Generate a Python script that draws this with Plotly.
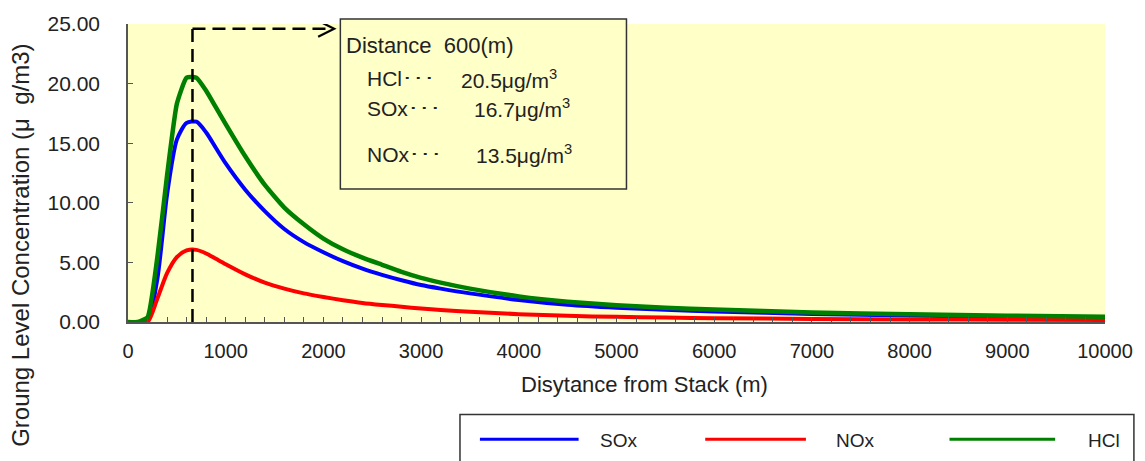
import plotly.graph_objects as go

# ---- data ----
distance = [0, 100, 200, 300, 400, 500, 600, 700, 800, 900, 1000, 1200, 1400, 1600, 1800,
            2000, 2200, 2400, 2600, 2800, 3000, 3200, 3500, 4000, 4500, 5000, 5500, 6000,
            7000, 8000, 9000, 10000]
sox = [0, 0, 0.1, 3.6, 10.7, 15.3, 16.7, 16.8, 15.9, 14.6, 13.3, 11.1, 9.3, 7.8, 6.7,
       5.85, 5.1, 4.47, 3.95, 3.5, 3.1, 2.8, 2.4, 1.85, 1.45, 1.2, 1.02, 0.88,
       0.68, 0.54, 0.44, 0.36]
nox = [0, 0, 0, 1.96, 4.1, 5.45, 6.0, 6.05, 5.75, 5.3, 4.85, 4.0, 3.3, 2.8, 2.4,
       2.1, 1.83, 1.6, 1.43, 1.28, 1.13, 1.0, 0.86, 0.66, 0.52, 0.43, 0.37, 0.32,
       0.26, 0.22, 0.19, 0.17]
hcl = [0, 0, 0.4, 5.4, 12.3, 18.3, 20.5, 20.5, 19.4, 18.0, 16.6, 13.9, 11.5, 9.6, 8.2,
       7.0, 6.1, 5.4, 4.8, 4.2, 3.7, 3.3, 2.8, 2.15, 1.7, 1.4, 1.2, 1.04,
       0.8, 0.65, 0.53, 0.44]

series_names = ["SOx", "NOx", "HCl"]
series_colors = ["#0000FF", "#FF0000", "#008000"]
series_smooth = [0.7, 0.7, 0.45]

x_ticks = [0, 1000, 2000, 3000, 4000, 5000, 6000, 7000, 8000, 9000, 10000]
y_ticks = [0, 5, 10, 15, 20, 25]

marker_x = 660          # dashed marker position (m)
marker_top = 24.6       # dashed horizontal level
arrow_end_x = 2110      # arrow tip

box_title = "Distance  600(m)"
box_labels = ["HCl･･･", "SOx･･･", "NOx･･･"]
box_values = ["20.5μg/m<sup>3</sup>", "16.7μg/m<sup>3</sup>", "13.5μg/m<sup>3</sup>"]

# ---- layout helpers (pixel -> paper) ----
L, R, T, B = 128, 1108, 22, 322
W, H = 1145, 461
def px(xp):
    return (xp - L) / (R - L)
def py(yp):
    return (B - yp) / (B - T)

FONT = "Liberation Sans, Arial, sans-serif"
TXT = "#222222"
AX = "#555555"
BG = "#FFFFC8"

fig = go.Figure()
for name, vals, col, w, sm in zip(series_names, [sox, nox, hcl], series_colors, [4, 4, 4.5], series_smooth):
    fig.add_trace(go.Scatter(x=distance, y=vals, mode="lines", name=name,
                             line=dict(color=col, width=w, shape="spline", smoothing=sm),
                             showlegend=False))

shapes = []
shapes.append(dict(type="line", xref="x", yref="y", x0=marker_x, x1=marker_x, y0=0, y1=marker_top,
                   line=dict(color="black", width=2.5, dash="13px,7px"), layer="above"))
shapes.append(dict(type="line", xref="x", yref="y", x0=marker_x, x1=arrow_end_x - 30, y0=marker_top, y1=marker_top,
                   line=dict(color="black", width=2.5, dash="13px,7px"), layer="above"))
shapes.append(dict(type="path", xref="x", yref="y", xsizemode="pixel", ysizemode="pixel",
                   xanchor=arrow_end_x, yanchor=marker_top,
                   path="M-16,-8 L0,0 L-16,8", line=dict(color="black", width=2.2), layer="above"))
shapes.append(dict(type="rect", xref="paper", yref="paper", x0=px(341), x1=px(628), y0=py(188), y1=py(17),
                   line=dict(color="#333333", width=1.5), fillcolor=BG, layer="above"))
shapes.append(dict(type="rect", xref="paper", yref="paper", x0=px(461), x1=px(1137), y0=py(475), y1=py(415),
                   line=dict(color="#333333", width=1.5), fillcolor="white", layer="above"))

annotations = []
annotations.append(dict(text=box_title, xref="paper", yref="paper", x=px(345), y=py(44),
                        xanchor="left", yanchor="middle", showarrow=False,
                        font=dict(family=FONT, size=22, color=TXT)))
ys = [77, 107, 153]
xs_val = [460, 473, 475]
for lab, val, yy, xv in zip(box_labels, box_values, ys, xs_val):
    annotations.append(dict(text=lab, xref="paper", yref="paper", x=px(366), y=py(yy),
                            xanchor="left", yanchor="middle", showarrow=False,
                            font=dict(family=FONT, size=21, color=TXT)))
    annotations.append(dict(text=val, xref="paper", yref="paper", x=px(xv), y=py(yy),
                            xanchor="left", yanchor="middle", showarrow=False,
                            font=dict(family=FONT, size=21, color=TXT)))

leg_line = [(481, 580), (707, 808), (952, 1058)]
leg_text = [599, 836, 1089]
for name, col, (a, b), t in zip(series_names, series_colors, leg_line, leg_text):
    shapes.append(dict(type="line", xref="paper", yref="paper", x0=px(a), x1=px(b), y0=py(440), y1=py(440),
                       line=dict(color=col, width=3), layer="above"))
    annotations.append(dict(text=name, xref="paper", yref="paper", x=px(t), y=py(441),
                            xanchor="left", yanchor="middle", showarrow=False,
                            font=dict(family=FONT, size=19, color=TXT)))

annotations.append(dict(text="Disytance from Stack (m)", xref="paper", yref="paper", x=px(646), y=py(385),
                        xanchor="center", yanchor="middle", showarrow=False,
                        font=dict(family=FONT, size=22, color=TXT)))
annotations.append(dict(text="Groung Level Concentration (μ  g/m3)", xref="paper", yref="paper",
                        x=px(20), y=py(245), xanchor="center", yanchor="middle", textangle=-90,
                        showarrow=False, font=dict(family=FONT, size=24, color=TXT)))

fig.update_layout(
    width=W, height=H,
    margin=dict(l=L, r=W - R, t=T, b=H - B),
    paper_bgcolor="white", plot_bgcolor=BG,
    shapes=shapes, annotations=annotations,
    showlegend=False,
    xaxis=dict(range=[0, 10000], tickvals=x_ticks, ticktext=[str(v) for v in x_ticks],
               showgrid=False, zeroline=False, showline=True, linecolor=AX, linewidth=1.5,
               ticks="inside", ticklen=5, tickcolor=AX, tickwidth=1.2,
               minor=dict(dtick=200, ticks="inside", ticklen=5, tickcolor=AX, tickwidth=1.2, showgrid=False),
               tickfont=dict(family=FONT, size=20, color=TXT), ticklabelstandoff=10),
    yaxis=dict(range=[0, 25], tickvals=y_ticks, ticktext=["%.2f" % v for v in y_ticks],
               showgrid=False, zeroline=False, showline=True, linecolor=AX, linewidth=1.5,
               ticks="inside", ticklen=5, tickcolor=AX, tickwidth=1.2,
               tickfont=dict(family=FONT, size=21, color=TXT), ticklabelstandoff=22),
)

fig.write_html("out.html", config={"displayModeBar": False},
               post_script="document.body.style.margin='0';document.body.style.overflow='hidden';")
